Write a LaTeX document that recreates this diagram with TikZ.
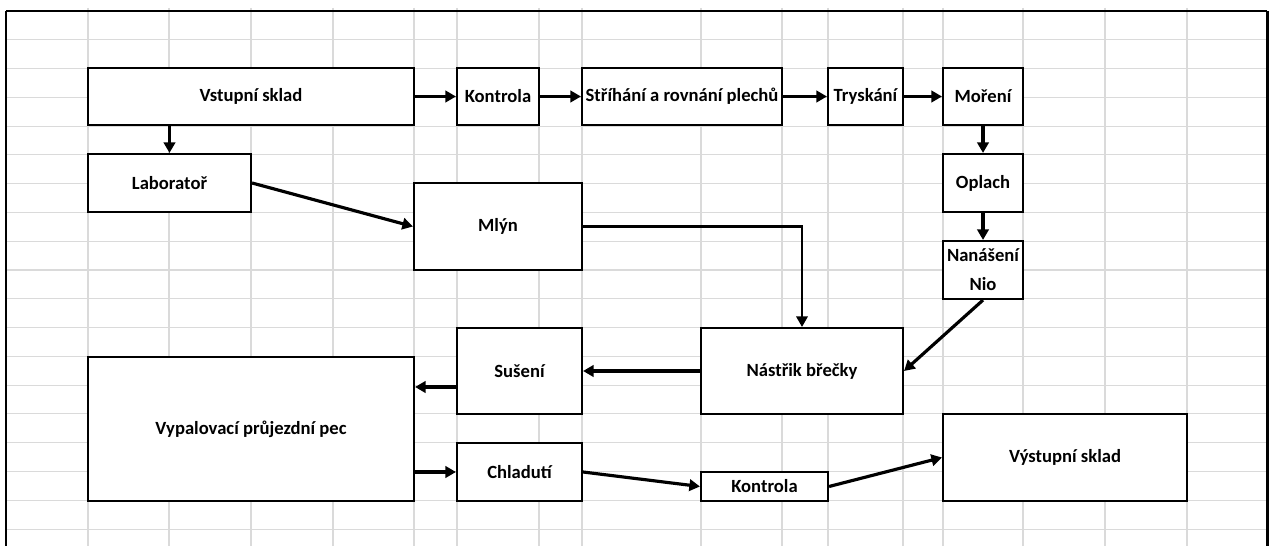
\documentclass[tikz,border=0pt]{standalone}
\usepackage{fontspec}
\setmainfont{Carlito}
\usetikzlibrary{arrows.meta}
\definecolor{gridgray}{HTML}{DADADA}

\begin{document}
\begin{tikzpicture}[x=0.02cm, y=-0.02cm]
% One pixel of the sheet
\def\px{0.02cm}
\tikzset{
  box/.style={draw, line width=1.2pt, fill=white, inner sep=0pt, align=center,
    font=\bfseries\fontsize{10.6}{12.6}\selectfont},
  arr/.style={line width=1.8pt, -{Triangle[length=6pt,width=6.5pt]}},
  gridline/.style={draw=gridgray, line width=0.6pt}
}
\useasboundingbox (0,0) rectangle (1270,546);

% Draw the sheet grid
\foreach \x in {88,169,251,333,414,457,539,582,701,782,828,903,943,1023,1105,1187}
  \draw[gridline] (\x,8) -- (\x,546);
\foreach \k in {1,...,18}
  \draw[gridline] (6,11+28.78*\k) -- (1267,11+28.78*\k);

% Draw the frame
\draw[line width=0.6pt] (6,546) -- (6,11);
\draw[line width=1.2pt] (6,11) -- (1267,11);
\draw[line width=1.7pt] (1267,11) -- (1267,546);

% Top row
\node[box, minimum width=326*\px, minimum height=57*\px] (vstup) at (251,96.5) {Vstupní sklad};
\node[box, minimum width=82*\px, minimum height=57*\px] (kon1) at (498,96.5) {Kontrola};
\node[box, minimum width=200*\px, minimum height=57*\px] (strih) at (682,96.5) {Stříhání a rovnání plechů};
\node[box, minimum width=75*\px, minimum height=57*\px] (trysk) at (865.5,96.5) {Tryskání};
\node[box, minimum width=80*\px, minimum height=57*\px] (moreni) at (983,96.5) {Moření};

% Middle
\node[box, minimum width=163*\px, minimum height=58*\px] (lab) at (169.5,183) {Laboratoř};
\node[box, minimum width=168*\px, minimum height=87*\px] (mlyn) at (498,226.5) {Mlýn};
\node[box, minimum width=80*\px, minimum height=58*\px] (oplach) at (983,183) {Oplach};
\node[box, minimum width=80*\px, minimum height=58*\px] (nanio) at (983,270) {Nanášení\\[4pt]Nio};
\node[box, minimum width=202*\px, minimum height=86*\px] (nastrik) at (802,371) {Nástřik břečky};
\node[box, minimum width=125*\px, minimum height=86*\px] (suseni) at (519.5,371) {Sušení};

% Bottom
\node[box, minimum width=326*\px, minimum height=144*\px] (pec) at (251,429) {Vypalovací průjezdní pec};
\node[box, minimum width=125*\px, minimum height=58*\px] (chlad) at (519.5,472) {Chladutí};
\node[box, minimum width=127*\px, minimum height=29*\px] (kon2) at (764.5,486.5) {Kontrola};
\node[box, minimum width=244*\px, minimum height=87*\px] (vystup) at (1065,457.5) {Výstupní sklad};

% Arrows
\draw[arr] (vstup.east) -- (kon1.west);
\draw[arr] (kon1.east) -- (strih.west);
\draw[arr] (strih.east) -- (trysk.west);
\draw[arr] (trysk.east) -- (moreni.west);
\draw[arr] (vstup.south -| lab.north) -- (lab.north);
\draw[arr] (lab.east) -- (mlyn.west);
\draw[arr, line width=1.2pt] (mlyn.east) -| (nastrik.north);
\draw[arr] (moreni.south) -- (oplach.north);
\draw[arr] (oplach.south) -- (nanio.north);
\draw[arr] (nanio.south) -- (nastrik.east);
\draw[arr] (nastrik.west) -- (suseni.east);
\coordinate (sus1) at ([yshift=-0.32cm]suseni.west);
\draw[arr] (sus1) -- (sus1 -| pec.east);
\draw[arr] (pec.east |- chlad.west) -- (chlad.west);
\draw[arr] (chlad.east) -- (kon2.west);
\draw[arr] (kon2.east) -- (vystup.west);
\end{tikzpicture}
\end{document}
